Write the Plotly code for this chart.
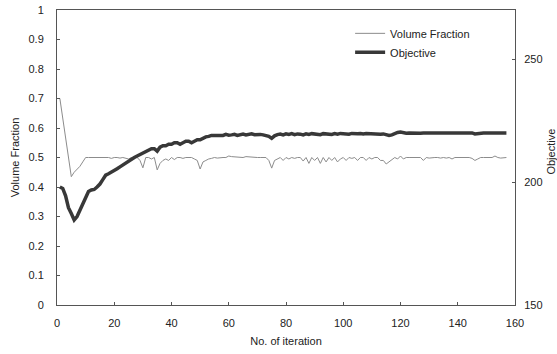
import plotly.graph_objects as go

iterations = list(range(1, 158))

volume_fraction = [
    0.70, 0.635, 0.57, 0.50, 0.435, 0.45, 0.46, 0.47, 0.485, 0.50,
    0.50, 0.50, 0.498, 0.50, 0.50, 0.50, 0.498, 0.50, 0.497, 0.50,
    0.50, 0.498, 0.50, 0.497, 0.495, 0.50, 0.50, 0.50, 0.49, 0.465,
    0.50, 0.50, 0.495, 0.50, 0.458, 0.48, 0.49, 0.495, 0.49, 0.50,
    0.493, 0.50, 0.50, 0.497, 0.50, 0.50, 0.50, 0.495, 0.49, 0.461,
    0.485, 0.49, 0.495, 0.497, 0.50, 0.498, 0.50, 0.50, 0.50, 0.505,
    0.503, 0.502, 0.50, 0.50, 0.50, 0.503, 0.502, 0.50, 0.50, 0.50,
    0.50, 0.50, 0.50, 0.49, 0.464, 0.49, 0.495, 0.50, 0.49, 0.50,
    0.495, 0.50, 0.497, 0.50, 0.50, 0.488, 0.50, 0.48, 0.50, 0.49,
    0.50, 0.48, 0.50, 0.485, 0.50, 0.49, 0.50, 0.485, 0.495, 0.50,
    0.49, 0.50, 0.497, 0.50, 0.49, 0.50, 0.50, 0.49, 0.50, 0.495,
    0.50, 0.50, 0.49, 0.49, 0.478, 0.485, 0.49, 0.50, 0.495, 0.505,
    0.495, 0.50, 0.50, 0.50, 0.50, 0.50, 0.50, 0.49, 0.50, 0.498,
    0.50, 0.50, 0.50, 0.498, 0.50, 0.498, 0.50, 0.495, 0.50, 0.50,
    0.498, 0.50, 0.50, 0.50, 0.497, 0.49, 0.495, 0.50, 0.50, 0.50,
    0.50, 0.50, 0.505, 0.50, 0.498, 0.50, 0.50,
]

objective = [
    198.0, 197.4, 194.4, 189.6, 187.2, 184.6, 186.0, 188.4, 190.8, 193.2,
    196.2, 196.8, 197.0, 198.0, 199.2, 201.0, 202.8, 203.4, 204.0, 204.6,
    205.4, 206.2, 207.0, 207.6, 208.8, 209.4, 210.0, 210.6, 211.2, 211.8,
    212.4, 213.0, 213.6, 213.6, 212.6, 214.2, 214.8, 214.8, 215.4, 215.4,
    216.0, 216.0, 215.4, 216.0, 216.6, 216.6, 216.0, 216.6, 217.2, 217.2,
    217.8, 218.4, 218.6, 219.0, 219.0, 219.0, 219.2, 219.0, 219.4, 219.1,
    219.2, 219.4, 219.0, 219.3, 219.5, 219.2, 219.4, 219.6, 219.3, 219.5,
    219.4, 219.2, 219.0, 218.6, 217.8, 218.8, 219.3, 219.5, 219.2, 219.6,
    219.4, 219.7, 219.3, 219.6, 219.5, 219.2, 219.6, 219.4, 219.7, 219.5,
    219.6, 219.3, 219.7, 219.5, 219.6, 219.4, 219.7, 219.5, 219.8, 219.6,
    219.7, 219.5, 219.8, 219.6, 219.7, 219.8, 219.6, 219.8, 219.7, 219.6,
    219.8, 219.7, 219.5, 219.6, 219.3, 219.0, 219.2, 219.8, 220.2, 220.4,
    220.0, 219.9, 220.0, 219.9, 220.0, 220.0, 219.9, 220.0, 220.0, 219.9,
    220.0, 220.0, 220.0, 219.9, 220.0, 220.0, 220.0, 219.8, 220.0, 220.0,
    220.0, 220.0, 219.9, 220.0, 220.0, 219.6, 219.8, 220.0, 220.0, 220.0,
    220.0, 220.0, 220.0, 220.0, 220.0, 220.0, 220.0,
]

x_ticks = [0, 20, 40, 60, 80, 100, 120, 140, 160]
left_ticks = [0, 0.1, 0.2, 0.3, 0.4, 0.5, 0.6, 0.7, 0.8, 0.9, 1]
left_tick_text = ["0", "0.1", "0.2", "0.3", "0.4", "0.5", "0.6", "0.7", "0.8", "0.9", "1"]
right_ticks = [150, 200, 250]

font = "Liberation Sans, Arial, sans-serif"
axis_color = "#555555"
text_color = "#222222"

fig = go.Figure()
fig.add_trace(go.Scatter(
    x=iterations, y=volume_fraction, name="Volume Fraction", mode="lines",
    line=dict(color="#8c8c8c", width=1), yaxis="y",
))
fig.add_trace(go.Scatter(
    x=iterations, y=objective, name="Objective", mode="lines",
    line=dict(color="#383838", width=3.5), yaxis="y2",
))

fig.update_layout(
    width=557, height=354,
    margin=dict(l=57, r=42, t=10, b=49),
    paper_bgcolor="white", plot_bgcolor="white",
    font=dict(family=font, size=11, color=text_color),
    showlegend=True,
    legend=dict(
        x=0.64, y=0.97, xanchor="left", yanchor="top",
        bgcolor="rgba(0,0,0,0)", font=dict(size=11, color=text_color),
        itemwidth=30, tracegroupgap=0,
    ),
    xaxis=dict(
        range=[0, 160], tickvals=x_ticks, showgrid=False, zeroline=False,
        showline=True, linecolor=axis_color, linewidth=1, mirror=True,
        ticks="inside", ticklen=3, tickcolor=axis_color,
        ticklabelstandoff=8, automargin=False,
        title=dict(text="No. of iteration", font=dict(size=11), standoff=9),
    ),
    yaxis=dict(
        range=[0, 1], tickvals=left_ticks, ticktext=left_tick_text,
        showgrid=False, zeroline=False,
        showline=True, linecolor=axis_color, linewidth=1,
        ticks="inside", ticklen=3, tickcolor=axis_color,
        ticklabelstandoff=10, automargin=False,
        title=dict(text="Volume Fraction", font=dict(size=11), standoff=6),
    ),
    yaxis2=dict(
        range=[150, 270], tickvals=right_ticks, overlaying="y", side="right",
        showgrid=False, zeroline=False,
        showline=True, linecolor=axis_color, linewidth=1,
        ticks="inside", ticklen=3, tickcolor=axis_color,
        ticklabelstandoff=6, automargin=False,
    ),
    annotations=[dict(
        text="Objective", xref="paper", yref="paper", x=1.0786, y=0.52,
        xanchor="center", yanchor="middle", textangle=-90, showarrow=False,
        font=dict(size=11, color=text_color),
    )],
)

fig.write_html(
    "out.html",
    config={"displayModeBar": False},
    post_script="document.body.style.margin='0';document.body.style.overflow='hidden';",
)
